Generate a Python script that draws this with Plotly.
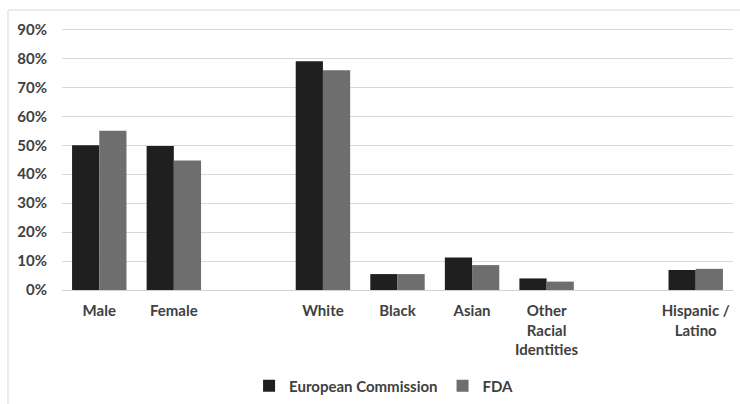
import plotly.graph_objects as go

# Bar slots on a numeric axis; slots 2 and 7 are left empty to separate the groups
positions = [0, 1, 3, 4, 5, 6, 8]
labels = ["Male", "Female", "White", "Black", "Asian",
          "Other<br>Racial<br>Identities", "Hispanic /<br>Latino"]

european_commission = [50.0, 49.7, 79.0, 5.5, 11.2, 4.0, 6.9]
fda = [55.0, 44.7, 75.9, 5.5, 8.6, 2.9, 7.3]

y_ticks = [0, 10, 20, 30, 40, 50, 60, 70, 80, 90]
y_ticklabels = [f"{v}%" for v in y_ticks]

FONT = "Lato, Liberation Sans, Arial"
TEXT = "#404040"

fig = go.Figure()
fig.add_trace(go.Bar(x=positions, y=european_commission, name="European Commission",
                     marker=dict(color="#1f1f1f", line=dict(width=0))))
fig.add_trace(go.Bar(x=positions, y=fda, name="FDA",
                     marker=dict(color="#6e6e6e", line=dict(width=0))))

fig.update_layout(
    width=740, height=404,
    margin=dict(l=62, r=7, t=28, b=114, autoexpand=False),
    paper_bgcolor="white", plot_bgcolor="white",
    barmode="group", bargap=0.27, bargroupgap=0,
    font=dict(family=FONT, size=15, color=TEXT, weight="bold"),
    showlegend=True,
    legend=dict(orientation="h", x=0.48, xanchor="center", y=-0.366, yanchor="middle",
                bgcolor="rgba(0,0,0,0)",
                font=dict(family=FONT, size=15, color=TEXT, weight="bold"),
                itemwidth=30, traceorder="normal"),
    xaxis=dict(range=[-0.5, 8.5], tickmode="array", tickvals=positions, ticktext=labels,
               showgrid=False, zeroline=False, showline=False, ticks="",
               ticklabelstandoff=10,
               tickfont=dict(family=FONT, size=15, color=TEXT, weight="bold")),
    yaxis=dict(range=[0, 90.5], tickmode="array", tickvals=y_ticks, ticktext=y_ticklabels,
               showgrid=True, gridcolor="#d9d9d9", gridwidth=1,
               zeroline=True, zerolinecolor="#d0d0d0", zerolinewidth=1,
               showline=False, ticks="", ticklabelstandoff=14,
               tickfont=dict(family=FONT, size=15, color=TEXT, weight="bold")),
    shapes=[dict(type="rect", xref="paper", yref="paper",
                 x0=-0.0805, x1=1.03, y0=-0.46, y1=1.0687,
                 line=dict(color="#d9d9d9", width=1), fillcolor="rgba(0,0,0,0)",
                 layer="below")],
)

fig.write_html("out.html")
